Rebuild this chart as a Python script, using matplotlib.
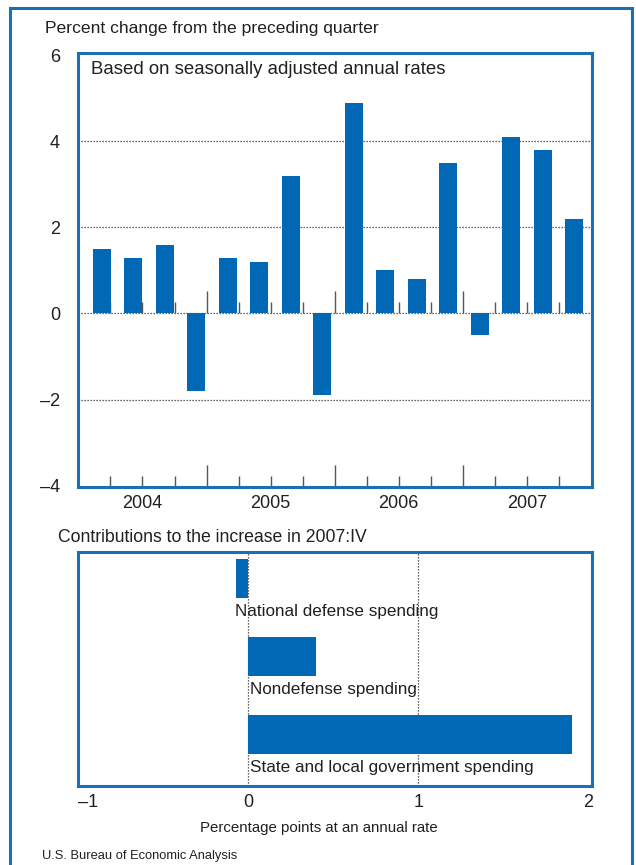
import matplotlib
matplotlib.use("Agg")
import matplotlib.pyplot as plt
import numpy as np
from matplotlib.patches import Rectangle

plt.rcParams["font.family"] = ["Liberation Sans", "DejaVu Sans"]

# quarterly change, 2004:I - 2007:IV
quarters = np.arange(16)
pct_change = [1.5, 1.3, 1.6, -1.8, 1.3, 1.2, 3.2, -1.9,
              4.9, 1.0, 0.8, 3.5, -0.5, 4.1, 3.8, 2.2]
years = ["2004", "2005", "2006", "2007"]
y_ticks = [6, 4, 2, 0, -2, -4]
y_tick_labels = ["6", "4", "2", "0", "\u20132", "\u20134"]

# contributions to the increase in 2007:IV
components = ["National defense spending", "Nondefense spending",
              "State and local government spending"]
contrib = [-0.07, 0.4, 1.9]
x_ticks = [-1, 0, 1, 2]
x_tick_labels = ["\u20131", "0", "1", "2"]

BAR = "#0068b4"
FRAME = "#1b6fb7"
TXT = "#231f20"
DOT = (0, (1, 1.4))

fig = plt.figure(figsize=(6.36, 8.65), dpi=100)
W, H = 636, 865

# outer frame, open at the bottom
fig.patches.append(Rectangle((10 / W, -0.05), 622 / W, 1.05 - 8 / H,
                             transform=fig.transFigure, fill=False,
                             edgecolor=FRAME, linewidth=2.2))

# ---- top panel ----
ax = fig.add_axes([78 / W, 1 - 487 / H, 514 / W, 434 / H])
ax.bar(quarters, pct_change, width=0.575, color=BAR, zorder=3)
ax.set_xlim(-0.76, 15.56)
ax.set_ylim(-4.03, 6.05)
for y in [4, 2, 0, -2]:
    ax.axhline(y, color="#333333", linewidth=0.9, linestyle=DOT, zorder=1)

# quarter separators (long ones at year boundaries)
seps = 0.27 + 1.017 * np.arange(15)
long_sep = (np.arange(15) % 4) == 3
for yb in [0, -4.03]:
    ax.vlines(seps[~long_sep], yb, yb + 0.26, color="#555555", linewidth=1.0, zorder=2)
    ax.vlines(seps[long_sep], yb, yb + 0.52, color="#555555", linewidth=1.0, zorder=2)

bounds = 0.27 + 1.017 * np.array([-1, 3, 7, 11, 15])
centers = (bounds[:-1] + bounds[1:]) / 2
ax.set_xticks(centers)
ax.set_xticklabels(years)
ax.set_yticks(y_ticks)
ax.set_yticklabels(y_tick_labels)
ax.tick_params(axis="both", length=0, labelsize=13, colors=TXT)
ax.tick_params(axis="y", pad=13)
ax.tick_params(axis="x", pad=6)
for s in ax.spines.values():
    s.set_color(FRAME)
    s.set_linewidth(2.2)

fig.text(91 / W, 1 - 70 / H, "Based on seasonally adjusted annual rates",
         fontsize=13.4, color=TXT, va="center")
fig.text(45 / W, 1 - 28 / H, "Percent change from the preceding quarter",
         fontsize=12.6, color=TXT, va="center")

# ---- bottom panel ----
bx = fig.add_axes([78 / W, 1 - 786 / H, 514 / W, 234 / H])
ypos = np.arange(len(contrib))
bx.barh(ypos, contrib, height=0.5, color=BAR, zorder=3)
bx.set_ylim(2.654, -0.346)
bx.set_xlim(-1, 2.02)
for x in [0, 1]:
    bx.axvline(x, color="#333333", linewidth=0.9, linestyle=DOT, zorder=1)
for i, (name, v) in enumerate(zip(components, contrib)):
    x0 = v - 0.005 if v < 0 else 0.01
    bx.text(x0, i + 0.42, name, fontsize=12.3, color=TXT,
            va="center", ha="left", zorder=4)
bx.set_yticks([])
bx.set_xticks(x_ticks)
bx.set_xticklabels(x_tick_labels)
bx.tick_params(axis="x", length=0, labelsize=13, colors=TXT, pad=6)
bx.get_xticklabels()[0].set_horizontalalignment("left")
for s in bx.spines.values():
    s.set_color(FRAME)
    s.set_linewidth(2.2)

fig.text(58 / W, 1 - 537 / H, "Contributions to the increase in 2007:IV",
         fontsize=12.7, color=TXT, va="center")
fig.text(319 / W, 1 - 828 / H, "Percentage points at an annual rate",
         fontsize=10.8, color=TXT, va="center", ha="center")
fig.text(42 / W, 1 - 856 / H, "U.S. Bureau of Economic Analysis",
         fontsize=9.3, color=TXT, va="center")

fig.savefig("out.png", dpi=100)
